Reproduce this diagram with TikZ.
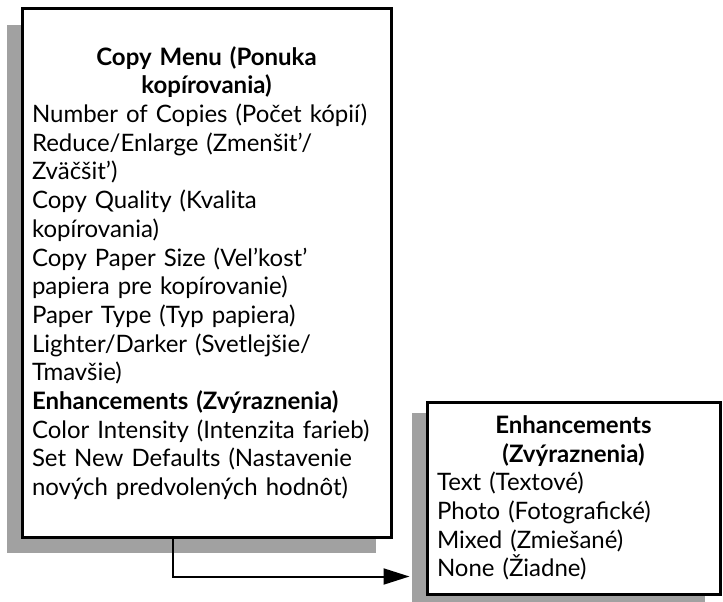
\documentclass[tikz,border=0pt]{standalone}
\usepackage{fontspec}
\setmainfont{Lato}
\usetikzlibrary{shadows,arrows.meta}
\definecolor{schatten}{gray}{0.63}

\begin{document}
\begin{tikzpicture}[x=1pt,y=-1pt,
	kasten/.style={draw, line width=3pt, fill=white, inner xsep=10pt, inner ysep=0pt, align=left,
		font=\fontsize{24}{28.7}\selectfont,
		drop shadow={shadow xshift=-15pt, shadow yshift=-#1, fill=schatten, opacity=1}},
	kasten/.default=16pt,
	pfeil/.style={line width=2pt, -{Triangle[length=26pt,width=16pt]}}]
	\useasboundingbox (0,0) rectangle (723,602);
	% Kopiermenue
	\node [kasten, text width=349pt, minimum height=528pt] (menu) at (206.5,273) {%
		{\centering\bfseries Copy Menu (Ponuka\\kopírovania)\par}
		Number of Copies (Počet kópií)\\
		Reduce/Enlarge (Zmenšit’/\\
		Zväčšit’)\\
		Copy Quality (Kvalita\\
		kopírovania)\\
		Copy Paper Size (Vel’kost’\\
		papiera pre kopírovanie)\\
		Paper Type (Typ papiera)\\
		Lighter/Darker (Svetlejšie/\\
		Tmavšie)\\
		\textbf{Enhancements (Zvýraznenia)}\\
		Color Intensity (Intenzita farieb)\\
		Set New Defaults (Nastavenie\\
		nových predvolených hodnôt)};
	% Untermenue Enhancements
	\node [kasten=11pt, text width=273pt, minimum height=192pt] (enh) at (573.5,498) {%
		{\centering\bfseries Enhancements\\(Zvýraznenia)\par}
		Text (Textové)\\
		Photo (Fotografické)\\
		Mixed (Zmiešané)\\
		None (Žiadne)};
	% Verbindung
	\draw [pfeil] ([xshift=-34pt]menu.south) |- ([xshift=-16pt,yshift=19pt]enh.south west);
\end{tikzpicture}
\end{document}
